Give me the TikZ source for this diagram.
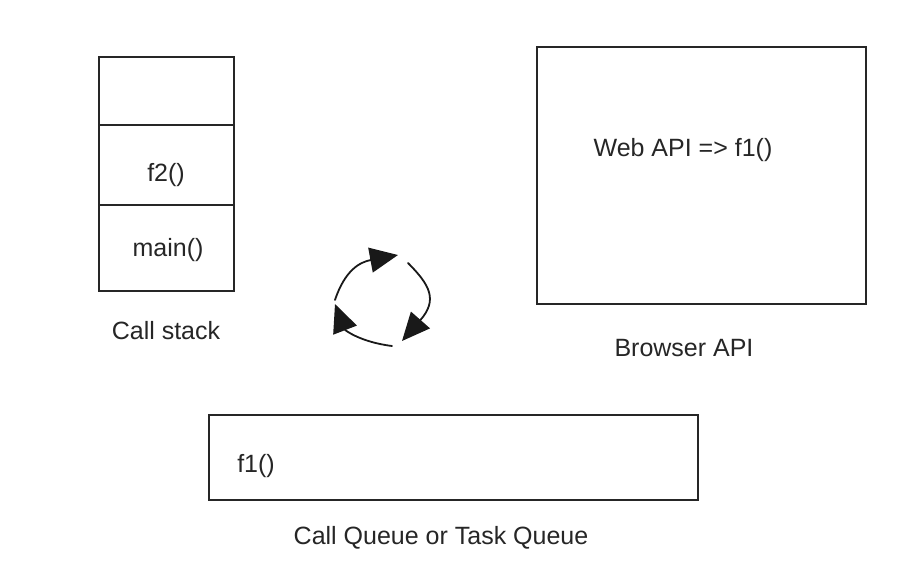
\documentclass[tikz,border=0pt]{standalone}
\usepackage{fontspec}
\setmainfont{Liberation Sans}
\usetikzlibrary{arrows.meta}
\begin{document}
\begin{tikzpicture}[x=1pt,y=-1pt,
  box/.style={draw=black!85,line width=1.8pt,rectangle,inner sep=0pt,anchor=north west},
  lbl/.style={font=\fontsize{25}{30}\selectfont,text=black!85,inner sep=0pt},
  cyc/.style={line width=1.8pt,draw=black!90,-{Triangle[length=28pt,width=25pt]},line cap=round}
]
\useasboundingbox (0,0) rectangle (923,576);
% call stack
\node[box,minimum width=135pt,minimum height=68pt] (s1) at (98,56) {};
\node[box,minimum width=135pt,minimum height=80pt] (s2) at (98,124) {};
\node[box,minimum width=135pt,minimum height=86pt] (s3) at (98,204) {};
\node[lbl] (f2) at (166,175) {f2()};
\node[lbl] (mainf) at (168,250) {main()};
\node[lbl] (cs) at (166,331) {Call stack};
% browser api
\node[box,minimum width=329pt,minimum height=257pt] (web) at (536,46) {};
\node[lbl] (webt) at (683,150) {Web API => f1()};
\node[lbl] (bapi) at (684,348) {Browser API};
% queue
\node[box,minimum width=489pt,minimum height=85pt] (q) at (208,414) {};
\node[lbl] (f1) at (256,466) {f1()};
\node[lbl] (cq) at (441,538) {Call Queue or Task Queue};
% event loop
\coordinate (a1) at (335,300);
\coordinate (a2) at (398,255);
\coordinate (b1) at (408,263);
\coordinate (b2) at (402,341);
\coordinate (c1) at (392,346);
\coordinate (c2) at (335,304);
\draw[cyc] (a1) .. controls (345,270) and (360,262) .. (a2);
\draw[cyc] (b1) .. controls (430,285) and (438,300) .. (b2);
\draw[cyc] (c1) .. controls (360,342) and (345,330) .. (c2);
\end{tikzpicture}
\end{document}
